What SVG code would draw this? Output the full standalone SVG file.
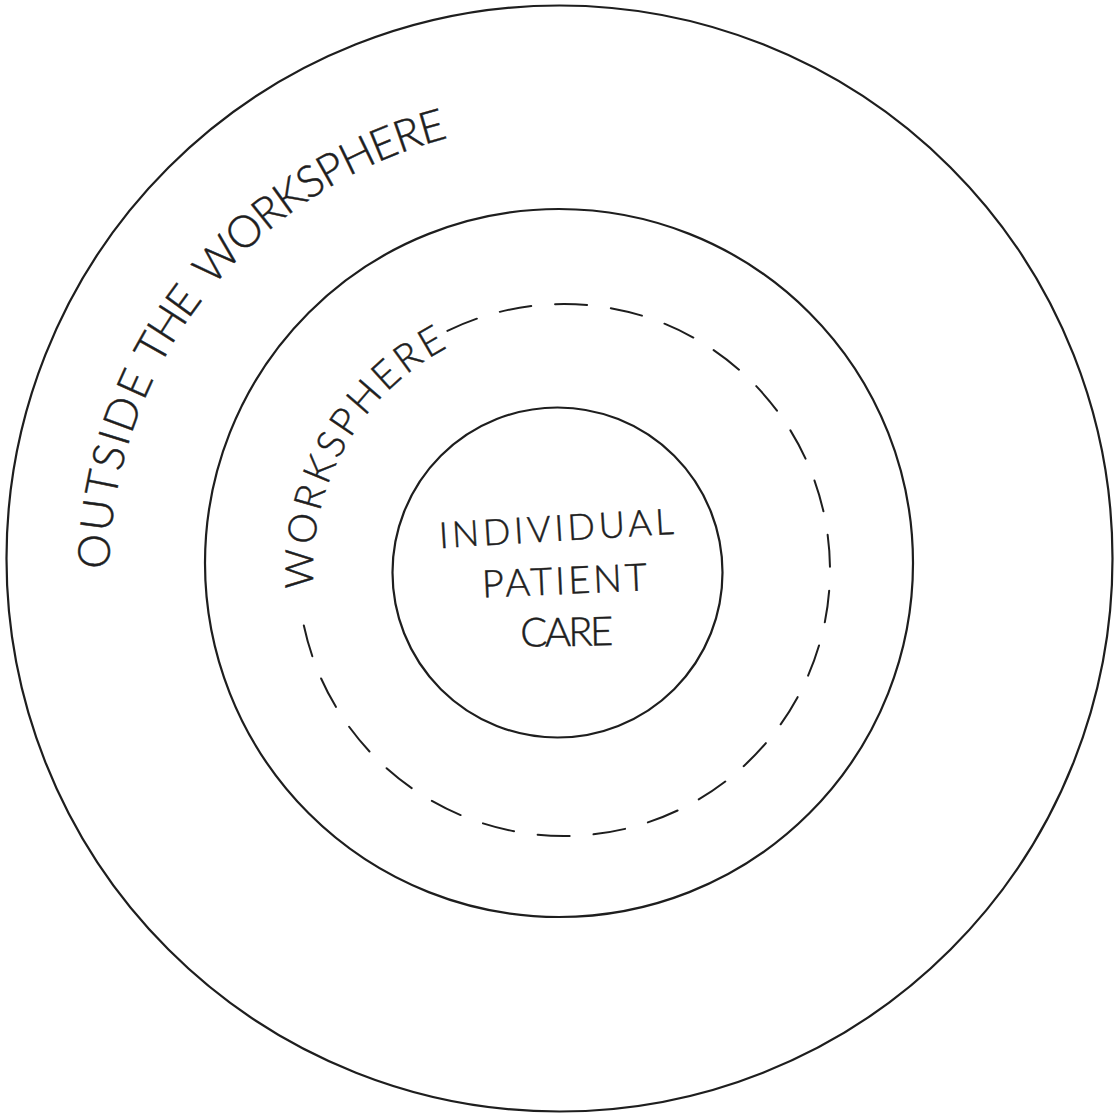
<svg xmlns="http://www.w3.org/2000/svg" width="1117" height="1113" viewBox="0 0 1117 1113">
  <style>
    .ring { fill: none; stroke: #1e1e1e; stroke-width: 2.2; }
    .dash { fill: none; stroke: #1e1e1e; stroke-width: 2; stroke-dasharray: 32 23.9; stroke-linecap: round; }
    .lbl { font-family: Lato, "Liberation Sans", "DejaVu Sans", sans-serif; font-weight: 300; fill: #1e1e1e; stroke: #1e1e1e; stroke-width: 0.5; }
  </style>
  <defs>
    <path id="outerTextPath" d="M 109 573.4 A 451 451 0 0 1 714.3 151.2"/>
    <path id="innerTextPath" d="M 313.7 588.8 A 251 251 0 0 1 520.4 322.8"/>
  </defs>
  <rect width="1117" height="1113" fill="#ffffff"/>

  <g id="outside-workspere">
    <circle class="ring" cx="559.5" cy="558.5" r="553"/>
    <text class="lbl" font-size="44"><textPath href="#outerTextPath" startOffset="4" textLength="198" lengthAdjust="spacing">OUTSIDE</textPath></text>
    <text class="lbl" font-size="44"><textPath href="#outerTextPath" startOffset="215" textLength="80" lengthAdjust="spacing">THE</textPath></text>
    <text class="lbl" font-size="44"><textPath href="#outerTextPath" startOffset="311" textLength="283" lengthAdjust="spacing">WORKSPHERE</textPath></text>
  </g>

  <g id="workspere">
    <circle class="ring" cx="559" cy="563" r="354"/>
    <path class="dash" d="M 447.4 330.9 A 266 266 0 1 1 303.8 625.3"/>
    <text class="lbl" font-size="39"><textPath href="#innerTextPath" textLength="292" lengthAdjust="spacing">WORKSPHERE</textPath></text>
  </g>

  <g id="individual-patient-care">
    <circle class="ring" cx="557.5" cy="572.5" r="165"/>
    <text class="lbl" font-size="36" text-anchor="middle" x="557" y="541" textLength="235" lengthAdjust="spacing" transform="rotate(-3.5 557 541)">INDIVIDUAL</text>
    <text class="lbl" font-size="38" text-anchor="middle" x="565" y="594" textLength="165" lengthAdjust="spacing" transform="rotate(-2.5 565 594)">PATIENT</text>
    <text class="lbl" font-size="40" text-anchor="middle" x="567" y="646" textLength="93" lengthAdjust="spacing" transform="rotate(-1 567 646)">CARE</text>
  </g>
</svg>
